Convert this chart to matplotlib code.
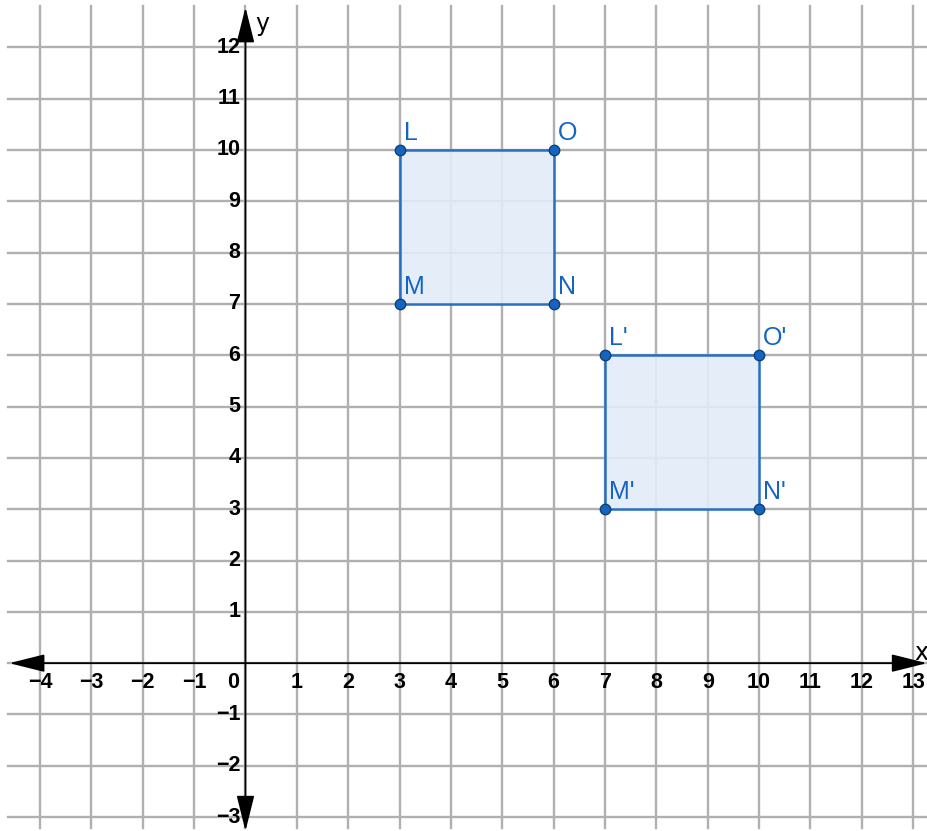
import matplotlib.pyplot as plt
import numpy as np

# square LMNO and its translated image L'M'N'O'
labels = ['L', 'M', 'N', 'O']
square_x = [3, 3, 6, 6]
square_y = [10, 7, 7, 10]
image_labels = ["L'", "M'", "N'", "O'"]
image_x = [7, 7, 10, 10]
image_y = [6, 3, 3, 6]

x_ticks = list(range(-4, 14))
y_ticks = list(range(-3, 13))

blue = '#1565c0'
fill = '#e3ecf8'

fig = plt.figure(figsize=(9.27, 8.31), dpi=100)
ax = fig.add_axes([0, 0, 1, 1])
ax.set_xlim(-4.78, 13.27)
ax.set_ylim(-3.27, 12.92)
ax.axis('off')

# Grid
for gx in x_ticks:
    ax.plot([gx, gx], [-3.22, 12.8], color='#b0b0b0', lw=1.7, zorder=1)
for gy in y_ticks:
    ax.plot([-4.62, 13.27], [gy, gy], color='#b0b0b0', lw=1.7, zorder=1)

# Axes with arrows
arrow = dict(arrowstyle='<|-|>,head_length=2.2,head_width=0.55',
             mutation_scale=10, color='black', lw=1.3, shrinkA=0, shrinkB=0)
ax.annotate('', xy=(13.27, 0), xytext=(-4.6, 0), arrowprops=arrow, zorder=3)
ax.annotate('', xy=(0, 12.78), xytext=(0, -3.27), arrowprops=arrow, zorder=3)
ax.text(13.15, 0.2, 'x', fontsize=17, ha='center', va='center', zorder=4)
ax.text(0.33, 12.45, 'y', fontsize=17, ha='center', va='center', zorder=4)

# Tick labels
font = dict(family='Liberation Sans', fontsize=15.5, fontweight='bold')
for t in x_ticks:
    if t == 0:
        ax.text(-0.25, -0.37, '0', ha='center', va='center', **font)
    else:
        ax.text(t, -0.37, '\u2212' + str(-t) if t < 0 else str(t),
                ha='center', va='center', **font)
for t in y_ticks:
    if t == 0:
        continue
    ax.text(-0.1, t, '\u2212' + str(-t) if t < 0 else str(t),
            ha='right', va='center', **font)

# Polygons
for xs, ys, names in [(square_x, square_y, labels),
                      (image_x, image_y, image_labels)]:
    ax.fill(xs, ys, facecolor=fill, edgecolor=blue, lw=1.8, alpha=0.9, zorder=2)
    ax.plot(xs, ys, 'o', color=blue, markersize=7.5,
            markeredgecolor='#0d3f7a', markeredgewidth=1, zorder=5)
    for px, py, name in zip(xs, ys, names):
        ax.text(px + 0.08, py + 0.1, name, color=blue, fontsize=18,
                family='Liberation Sans', ha='left', va='bottom', zorder=6)

fig.savefig('out.png', dpi=100)
